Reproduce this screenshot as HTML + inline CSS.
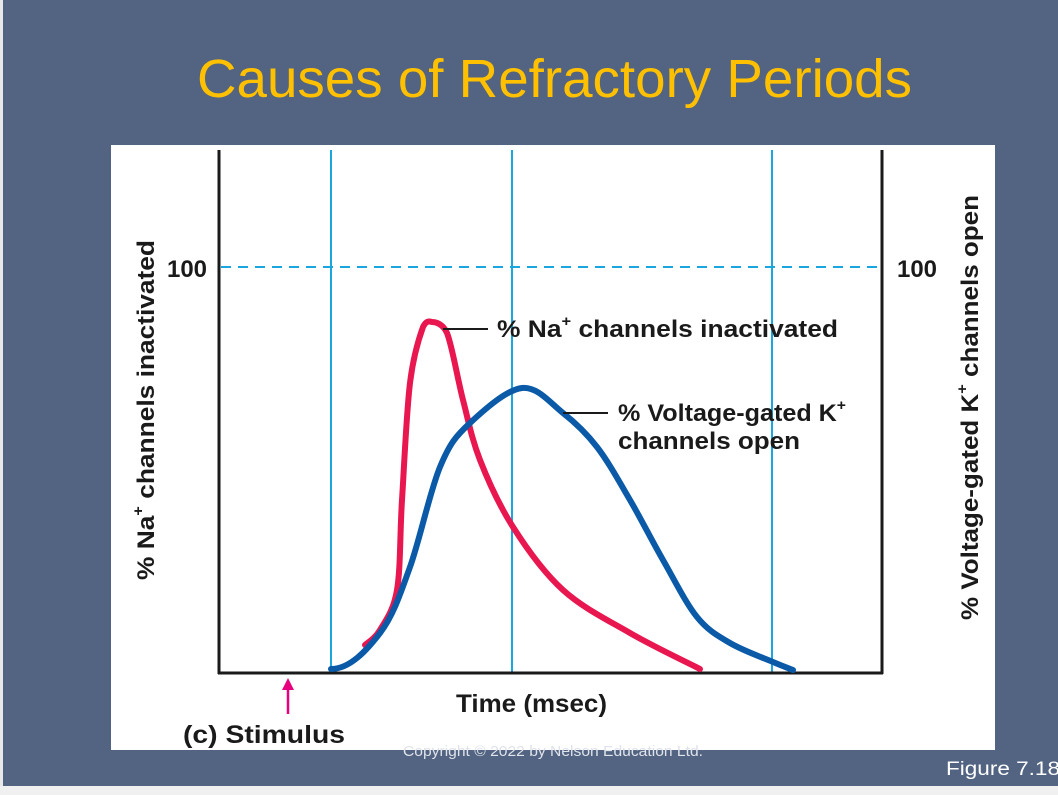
<!DOCTYPE html>
<html><head><meta charset="utf-8"><style>
html,body{margin:0;padding:0;background:#536482;}
svg{display:block}
text{font-family:"Liberation Sans",Arial,sans-serif;}
</style></head><body>
<svg width="1058" height="795" viewBox="0 0 1058 795" xmlns="http://www.w3.org/2000/svg">
<rect x="0" y="0" width="1058" height="795" fill="#536482"/>
<rect x="0" y="786" width="1058" height="9" fill="#f0f0f0"/>
<rect x="0" y="0" width="3" height="786" fill="#e8e8e8"/>
<text x="197" y="97" font-size="54" fill="#FFC000" textLength="715" lengthAdjust="spacingAndGlyphs">Causes of Refractory Periods</text>
<rect x="111" y="145" width="884" height="605" fill="#fff"/>
<text x="553" y="756" font-size="15" fill="#dfe3ea" text-anchor="middle" textLength="300" lengthAdjust="spacingAndGlyphs">Copyright © 2022 by Nelson Education Ltd.</text>
<text x="946" y="775" font-size="19" fill="#fff" textLength="114" lengthAdjust="spacingAndGlyphs">Figure 7.18</text>
<g stroke="#1aa7e0" stroke-width="2">
<line x1="331" y1="150" x2="331" y2="672"/>
<line x1="512" y1="150" x2="512" y2="672"/>
<line x1="772" y1="150" x2="772" y2="672"/>
</g>
<line x1="221" y1="267" x2="881" y2="267" stroke="#1aa7e0" stroke-width="2" stroke-dasharray="10,7"/>
<g stroke="#1a1a1a" stroke-width="3" fill="none">
<line x1="219" y1="150" x2="219" y2="674"/>
<line x1="882" y1="150" x2="882" y2="674"/>
<line x1="218" y1="673" x2="883" y2="673"/>
</g>
<path d="M365,645 C367.5,642.5 374.7,639.2 380,630 C385.3,620.8 393.3,611.7 397,590 C400.7,568.3 399.8,534.5 402,500 C404.2,465.5 406.5,411.8 410,383 C413.5,354.2 419.3,337.2 423,327 C426,321 428.5,321 432,322 C436,322 443,324 447,333 C452.2,346 457.5,378.8 463,400 C468.5,421.2 471.7,438.8 480,460 C488.3,481.2 499.2,505.3 513,527 C526.8,548.7 543.5,572.3 563,590 C582.5,607.7 607.2,619.8 630,633 C652.8,646.2 688.3,663 700,669" fill="none" stroke="#e8174f" stroke-width="6" stroke-linecap="round"/>
<path d="M331,669 C350,669 367,650 380,633 C393,616 400,595 410,567 C420,539 430,491 440,467 C450,443 456,436 470,423 C484,410 506.5,389.7 522,388 C537.5,386.3 550.5,403.2 563,413 C575.5,422.8 585.8,432.5 597,447 C608.2,461.5 619,481.2 630,500 C641,518.8 651.8,540.5 663,560 C674.2,579.5 685.8,603.2 697,617 C708.2,630.8 717.3,635.5 730,643 C742.7,650.5 762.5,657.5 773,662 C783.5,666.5 789.7,668.7 793,670" fill="none" stroke="#0b5aa8" stroke-width="6" stroke-linecap="round"/>
<line x1="443" y1="329" x2="488" y2="329" stroke="#1a1a1a" stroke-width="2"/>
<line x1="563" y1="413" x2="608" y2="413" stroke="#1a1a1a" stroke-width="2"/>
<g font-weight="bold" fill="#1a1a1a">
<text x="497" y="337" font-size="24" textLength="341" lengthAdjust="spacingAndGlyphs">% Na<tspan font-size="15" dy="-11">+</tspan><tspan dy="11"> channels inactivated</tspan></text>
<text x="618" y="421" font-size="24" textLength="228" lengthAdjust="spacingAndGlyphs">% Voltage-gated K<tspan font-size="15" dy="-11">+</tspan></text>
<text x="618" y="449" font-size="24" textLength="182" lengthAdjust="spacingAndGlyphs">channels open</text>
<text x="167" y="277" font-size="24" textLength="40" lengthAdjust="spacingAndGlyphs">100</text>
<text x="897" y="277" font-size="24" textLength="40" lengthAdjust="spacingAndGlyphs">100</text>
<text x="456" y="712" font-size="25" textLength="151" lengthAdjust="spacingAndGlyphs">Time (msec)</text>
<text x="183" y="743" font-size="25" textLength="162" lengthAdjust="spacingAndGlyphs">(c)  Stimulus</text>
<text transform="translate(154,580) rotate(-90)" font-size="24" textLength="340" lengthAdjust="spacingAndGlyphs">% Na<tspan font-size="15" dy="-11">+</tspan><tspan dy="11"> channels inactivated</tspan></text>
<text transform="translate(978,620) rotate(-90)" font-size="24" textLength="425" lengthAdjust="spacingAndGlyphs">% Voltage-gated K<tspan font-size="15" dy="-11">+</tspan><tspan dy="11"> channels open</tspan></text>
</g>
<line x1="288" y1="714" x2="288" y2="686" stroke="#e6007e" stroke-width="2.5"/>
<polygon points="282,690 288,678 294,690" fill="#e6007e"/>
</svg>
</body></html>
